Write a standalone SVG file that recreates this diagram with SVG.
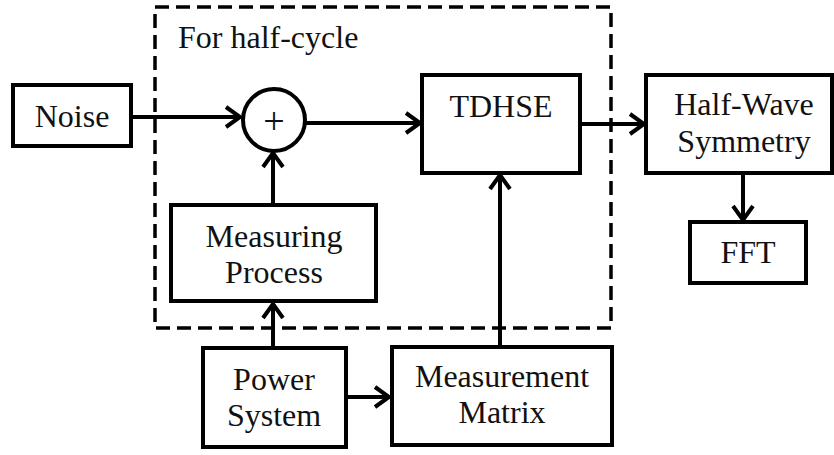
<svg xmlns="http://www.w3.org/2000/svg" width="834" height="455" viewBox="0 0 834 455">
  <defs>
    <style>
      .box { fill: #fff; stroke: #000; stroke-width: 4; }
      .wire { fill: none; stroke: #000; stroke-width: 4; }
      .frame { fill: none; stroke: #000; stroke-width: 3.5; stroke-dasharray: 14 7; }
    </style>
    <marker id="arrow" viewBox="-18 -12 20 24" refX="0" refY="0" markerWidth="20" markerHeight="24" markerUnits="userSpaceOnUse" orient="auto">
      <path d="M -14 -10 L 0 0 L -14 10" fill="none" stroke="#000" stroke-width="4" stroke-linejoin="miter" stroke-linecap="butt"/>
    </marker>
  </defs>
  <rect width="834" height="455" fill="#fff"/>

  <g font-family="'Liberation Serif', serif" font-size="32" fill="#111" text-anchor="middle">

  <!-- half-cycle processing frame -->
  <g id="half-cycle-frame">
    <rect class="frame" x="155" y="7" width="456" height="321"/>
    <text x="178" y="48" text-anchor="start">For half-cycle</text>
  </g>

  <g id="connectors">
    <line class="wire" x1="133" y1="117" x2="240" y2="117" marker-end="url(#arrow)"/>
    <line class="wire" x1="306" y1="123" x2="420" y2="123" marker-end="url(#arrow)"/>
    <line class="wire" x1="273" y1="205" x2="273" y2="153" marker-end="url(#arrow)"/>
    <line class="wire" x1="273" y1="348" x2="273" y2="304" marker-end="url(#arrow)"/>
    <line class="wire" x1="346" y1="397" x2="389" y2="397" marker-end="url(#arrow)"/>
    <line class="wire" x1="500" y1="347" x2="500" y2="175" marker-end="url(#arrow)"/>
    <line class="wire" x1="580" y1="124" x2="644" y2="124" marker-end="url(#arrow)"/>
    <line class="wire" x1="743" y1="173" x2="743" y2="220" marker-end="url(#arrow)"/>
  </g>

  <g id="noise">
    <rect class="box" x="13" y="85" width="118" height="61"/>
    <text x="72" y="127">Noise</text>
  </g>

  <g id="adder">
    <circle cx="274" cy="120" r="31" fill="#fff" stroke="#000" stroke-width="4"/>
    <text x="274" y="134" font-size="38">+</text>
  </g>

  <g id="tdhse">
    <rect class="box" x="422" y="75" width="158" height="98"/>
    <text x="501" y="117">TDHSE</text>
  </g>

  <g id="half-wave-symmetry">
    <rect class="box" x="646" y="75" width="186" height="98"/>
    <text x="744" y="115">Half-Wave</text>
    <text x="744" y="152">Symmetry</text>
  </g>

  <g id="fft">
    <rect class="box" x="690" y="222" width="116" height="61"/>
    <text x="748" y="263">FFT</text>
  </g>

  <g id="measuring-process">
    <rect class="box" x="171" y="205" width="205" height="96"/>
    <text x="274" y="247">Measuring</text>
    <text x="274" y="283">Process</text>
  </g>

  <g id="power-system">
    <rect class="box" x="203" y="348" width="143" height="99"/>
    <text x="274" y="390">Power</text>
    <text x="274" y="426">System</text>
  </g>

  <g id="measurement-matrix">
    <rect class="box" x="392" y="347" width="220" height="98"/>
    <text x="502" y="387">Measurement</text>
    <text x="502" y="423">Matrix</text>
  </g>

  </g>
</svg>
